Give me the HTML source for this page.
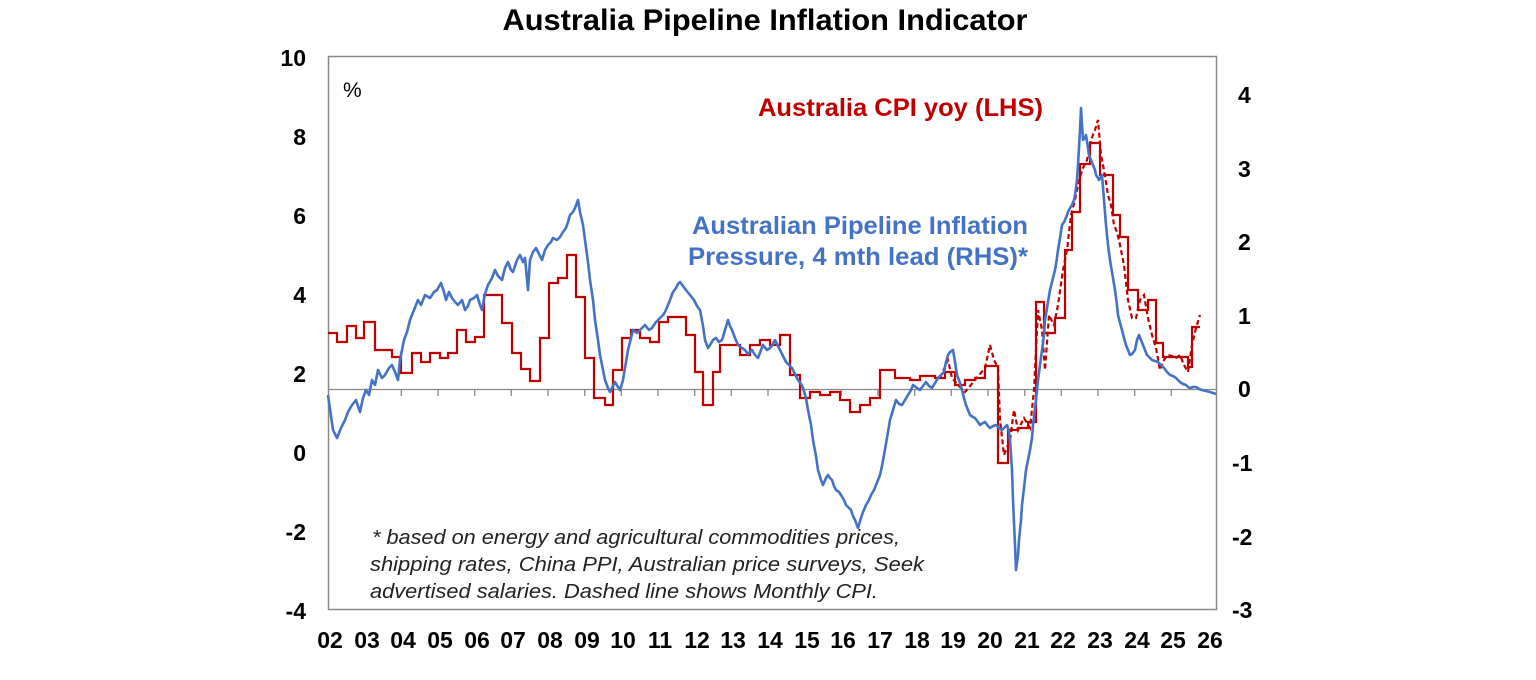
<!DOCTYPE html>
<html><head><meta charset="utf-8"><style>
body{margin:0;background:#fff;}
svg{display:block;font-family:"Liberation Sans",Arial,sans-serif;}
</style></head><body>
<svg width="1536" height="680" viewBox="0 0 1536 680">
<text x="765" y="30" text-anchor="middle" font-size="30" font-weight="bold" textLength="525" lengthAdjust="spacingAndGlyphs">Australia Pipeline Inflation Indicator</text>
<rect x="328.5" y="56.5" width="888" height="553" fill="none" stroke="#888" stroke-width="1.5"/>
<line x1="328" y1="389.5" x2="1216" y2="389.5" stroke="#888" stroke-width="1.3"/>
<g stroke="#888" stroke-width="1.3">
<path d="M401.3 389v7M438 389v7M474.7 389v7M511.3 389v7M548 389v7M584.7 389v7M621.3 389v7M658 389v7M694.7 389v7M731.3 389v7M768 389v7M804.7 389v7M841.3 389v7M878 389v7M914.7 389v7M951.3 389v7M988 389v7M1024.7 389v7M1061.3 389v7M1098 389v7M1134.7 389v7M1171.3 389v7M364.7 389v7"/>
</g>
<g font-size="23" font-weight="bold" text-anchor="end">
<text x="306" y="66">10</text><text x="306" y="145">8</text><text x="306" y="224">6</text><text x="306" y="303">4</text><text x="306" y="382">2</text><text x="306" y="461">0</text><text x="306" y="540">-2</text><text x="306" y="619">-4</text>
</g>
<g font-size="23" font-weight="bold" text-anchor="start">
<text x="1238" y="103">4</text><text x="1238" y="177">3</text><text x="1238" y="250">2</text><text x="1238" y="324">1</text><text x="1238" y="397">0</text><text x="1232" y="471">-1</text><text x="1232" y="545">-2</text><text x="1232" y="618">-3</text>
</g>
<g font-size="23" font-weight="bold" text-anchor="middle">
<text x="330" y="648">02</text><text x="367" y="648">03</text><text x="403" y="648">04</text><text x="440" y="648">05</text><text x="477" y="648">06</text><text x="513" y="648">07</text><text x="550" y="648">08</text><text x="587" y="648">09</text><text x="623" y="648">10</text><text x="660" y="648">11</text><text x="697" y="648">12</text><text x="733" y="648">13</text><text x="770" y="648">14</text><text x="807" y="648">15</text><text x="843" y="648">16</text><text x="880" y="648">17</text><text x="917" y="648">18</text><text x="953" y="648">19</text><text x="990" y="648">20</text><text x="1027" y="648">21</text><text x="1063" y="648">22</text><text x="1100" y="648">23</text><text x="1137" y="648">24</text><text x="1173" y="648">25</text><text x="1210" y="648">26</text>
</g>
<text x="343" y="97" font-size="21">%</text>
<text x="758" y="116" font-size="25" font-weight="bold" fill="#c00000" textLength="285" lengthAdjust="spacingAndGlyphs">Australia CPI yoy (LHS)</text>
<text x="692" y="234" font-size="25" font-weight="bold" fill="#4472c4" textLength="336" lengthAdjust="spacingAndGlyphs">Australian Pipeline Inflation</text>
<text x="688" y="265" font-size="25" font-weight="bold" fill="#4472c4" textLength="340" lengthAdjust="spacingAndGlyphs">Pressure, 4 mth lead (RHS)*</text>
<g font-size="20" font-style="italic" fill="#222">
<text x="372" y="544" textLength="528" lengthAdjust="spacingAndGlyphs">* based on energy and agricultural commodities prices,</text>
<text x="370" y="571" textLength="554" lengthAdjust="spacingAndGlyphs">shipping rates, China PPI, Australian price surveys, Seek</text>
<text x="370" y="598" textLength="508" lengthAdjust="spacingAndGlyphs">advertised salaries. Dashed line shows Monthly CPI.</text>
</g>
<polyline fill="none" stroke="#c00000" stroke-width="2.2" points="328,333 337,333 337,342 347,342 347,326 356,326 356,338 364,338 364,322 375,322 375,350 392,350 392,357 401,357 401,373 412,373 412,353 421,353 421,362 430,362 430,353 440,353 440,358 448,358 448,353 457,353 457,330 466,330 466,342 475,342 475,337 484,337 484,295 502,295 502,323 512,323 512,353 521,353 521,369 530,369 530,381 540,381 540,338 549,338 549,283 558,283 558,278 567,278 567,255 576,255 576,297 585,297 585,358 594,358 594,398 605,398 605,405 613,405 613,370 622,370 622,338 631,338 631,330 640,330 640,338 650,338 650,342 659,342 659,322 668,322 668,317 686,317 686,335 695,335 695,372 703,372 703,405 713,405 713,372 720,372 720,345 740,345 740,355 750,355 750,345 760,345 760,340 770,340 770,345 780,345 780,335 790,335 790,375 800,375 800,398 810,398 810,392 820,392 820,395 830,395 830,392 840,392 840,400 850,400 850,412 860,412 860,405 870,405 870,398 880,398 880,370 895,370 895,378 910,378 910,380 920,380 920,376 935,376 935,378 945,378 945,372 955,372 955,385 965,385 965,380 975,380 975,378 985,378 985,366 990,366 990,366 998,366 998,463 1008,463 1008,430 1018,430 1018,428 1028,428 1028,422 1036,422 1036,302 1044,302 1044,333 1055,333 1055,318 1065,318 1065,250 1072,250 1072,212 1080,212 1080,164 1090,164 1090,143 1100,143 1100,175 1113,175 1113,215 1120,215 1120,237 1128,237 1128,290 1138,290 1138,310 1148,310 1148,300 1156,300 1156,343 1163,343 1163,357 1188,357 1188,367 1192,367 1192,327 1200,327"/>
<polyline fill="none" stroke="#c00000" stroke-width="2.2" stroke-dasharray="5,3" points="940,378 948,360 952,378 958,385 965,392 975,380 985,368 990,345 994,360 998,368 1000,420 1004,455 1010,440 1014,410 1018,430 1024,418 1030,428 1034,390 1038,310 1042,330 1045,370 1049,315 1054,325 1058,305 1063,270 1067,250 1071,215 1075,200 1079,180 1083,168 1087,160 1091,140 1095,130 1098,120 1101,155 1104,170 1108,195 1111,205 1114,225 1117,232 1120,245 1124,265 1128,300 1132,318 1136,318 1140,300 1144,295 1148,318 1152,335 1156,348 1160,370 1164,360 1168,355 1172,356 1176,358 1180,355 1184,365 1188,372 1192,345 1196,328 1200,315"/>
<polyline fill="none" stroke="#4472c4" stroke-width="2.6" stroke-linejoin="round" points="328,395 333,430 337,438 341,428 345,420 348,412 352,405 356,400 360,412 363,398 366,390 369,395 372,380 375,385 378,370 382,378 385,375 389,368 392,365 395,372 398,380 400,360 404,340 407,332 410,320 414,310 418,300 421,305 425,295 430,298 434,292 437,290 441,283 444,292 446,300 449,292 452,298 455,302 458,305 462,300 465,310 468,306 470,300 474,298 477,295 480,305 482,310 485,294 488,285 492,278 495,270 498,276 502,280 505,268 508,262 511,270 513,272 517,260 520,255 523,262 525,258 528,290 530,260 533,252 536,248 539,254 542,260 545,250 548,245 551,242 553,238 557,240 560,237 563,232 566,228 568,222 570,215 573,212 575,208 578,200 580,212 583,225 585,240 588,262 590,280 593,300 595,320 598,340 600,355 603,370 605,380 608,388 610,392 613,386 615,382 618,387 620,390 623,380 626,362 628,350 631,338 633,330 637,333 640,330 643,327 645,325 649,330 652,328 656,322 660,318 663,315 665,312 668,305 670,300 673,292 676,288 678,284 680,282 683,286 686,290 690,295 694,300 697,306 700,310 703,326 705,340 708,348 710,345 713,340 716,338 719,342 722,340 725,330 728,320 730,326 732,330 735,338 738,345 742,348 745,350 748,354 752,350 755,355 758,358 761,350 763,345 767,350 770,348 773,344 775,340 778,346 780,350 783,356 786,362 789,365 792,368 795,374 798,380 801,384 803,388 806,398 808,410 811,425 813,440 816,456 818,470 821,480 823,485 826,478 828,475 830,478 832,480 834,486 836,490 839,492 841,495 844,500 846,505 849,508 851,510 853,516 855,520 858,528 861,518 863,512 866,505 869,500 871,495 874,490 876,485 878,480 880,475 882,466 884,455 887,438 890,420 893,410 896,400 899,404 902,405 905,400 908,395 911,390 913,385 917,388 920,390 923,386 926,382 929,386 932,388 935,383 938,378 941,375 944,372 946,362 948,355 950,352 953,350 955,362 957,375 960,383 962,390 964,398 966,405 968,410 970,415 973,417 975,418 978,422 980,425 983,423 985,422 988,426 990,428 993,426 996,425 999,428 1002,430 1005,427 1007,425 1009,432 1010,440 1012,470 1013,500 1015,545 1016,570 1018,555 1019,540 1021,520 1022,505 1024,488 1026,470 1028,460 1030,450 1032,438 1033,425 1036,400 1038,380 1040,365 1042,350 1044,335 1045,320 1048,302 1050,290 1053,278 1055,270 1057,258 1058,250 1060,238 1062,225 1064,222 1065,220 1067,215 1068,212 1070,208 1072,205 1074,200 1075,195 1077,180 1078,165 1080,130 1081,108 1082,125 1083,140 1085,138 1086,135 1088,148 1089,155 1091,160 1093,165 1095,170 1096,175 1098,178 1099,180 1101,177 1102,175 1104,200 1106,225 1108,245 1110,260 1113,278 1115,290 1117,305 1118,315 1120,323 1122,330 1124,338 1126,345 1128,350 1130,355 1132,354 1135,350 1137,340 1139,335 1141,340 1143,345 1145,350 1147,355 1150,358 1152,360 1155,361 1158,362 1161,365 1164,368 1167,372 1170,375 1173,376 1176,378 1178,380 1180,382 1183,384 1186,385 1188,387 1190,388 1193,387 1196,387 1199,389 1202,390 1206,391 1210,392 1216,394"/>
</svg>
</body></html>
